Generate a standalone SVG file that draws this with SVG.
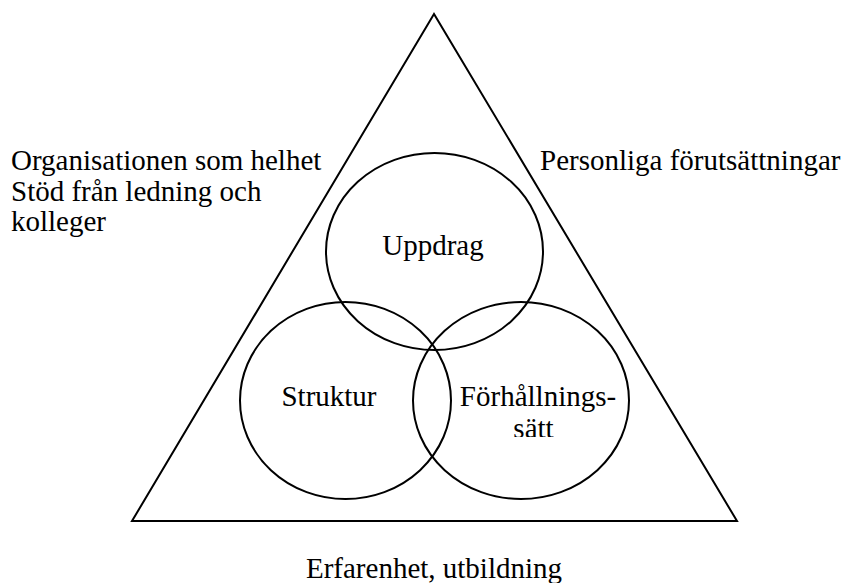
<svg xmlns="http://www.w3.org/2000/svg" width="845" height="583" viewBox="0 0 845 583">
<style>
.t{font-family:"Liberation Serif","Times New Roman",serif;font-size:29px;fill:#000}
.s{fill:none;stroke:#000;stroke-width:2}
</style>
<defs>
<clipPath id="cl"><rect x="400" y="380" width="300" height="57"/></clipPath>
</defs>
<rect width="845" height="583" fill="#fff"/>
<g id="triangle"><polygon class="s" points="434,14 132,521 737,521"/></g>
<g id="connectors"></g>
<g id="uppdrag"><ellipse class="s" cx="434.5" cy="251.5" rx="108.5" ry="98.5"/><text class="t" x="433" y="255" text-anchor="middle">Uppdrag</text></g>
<g id="struktur"><ellipse class="s" cx="345.5" cy="400.5" rx="105.5" ry="98.5"/><text class="t" x="329" y="406" text-anchor="middle">Struktur</text></g>
<g id="forhallningssatt"><ellipse class="s" cx="521" cy="400.5" rx="108" ry="98.5"/><text class="t" x="538" y="406" text-anchor="middle">Förhållnings-</text><text class="t" x="533.5" y="438" text-anchor="middle" clip-path="url(#cl)">sätt</text></g>
<g id="organisation"><text class="t" x="11" y="170">Organisationen som helhet</text><text class="t" x="11" y="201">Stöd från ledning och</text><text class="t" x="11" y="231">kolleger</text></g>
<g id="personliga"><text class="t" x="540" y="170">Personliga förutsättningar</text></g>
<g id="erfarenhet"><text class="t" x="434" y="578" text-anchor="middle">Erfarenhet, utbildning</text></g>
</svg>
